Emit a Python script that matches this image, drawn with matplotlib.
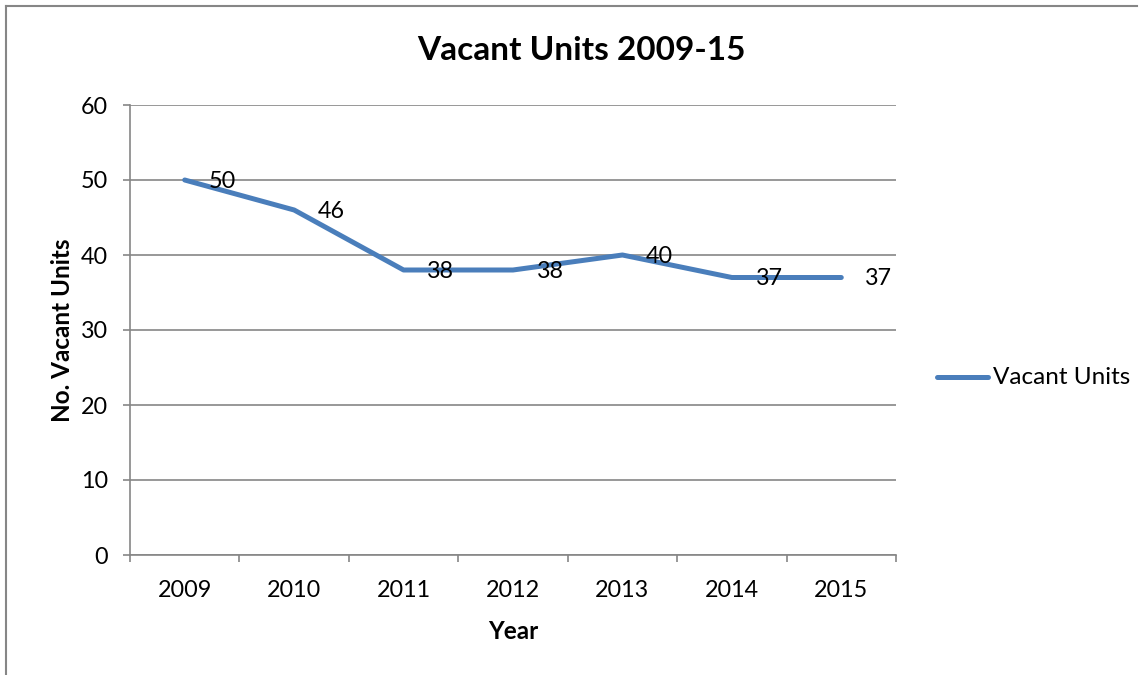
import matplotlib
matplotlib.use("Agg")
import matplotlib.pyplot as plt
from matplotlib.lines import Line2D

plt.rcParams['font.family'] = ['Lato', 'DejaVu Sans']

years = ['2009', '2010', '2011', '2012', '2013', '2014', '2015']
vacant = [50, 46, 38, 38, 40, 37, 37]
series_name = 'Vacant Units'
chart_title = 'Vacant Units 2009-15'

blue = '#4A7EBB'
grey = '#868686'

W, H = 1146, 675
fig = plt.figure(figsize=(W / 100, H / 100), dpi=100)

# plot area in pixels: x 130..896, y 105..555
ax = fig.add_axes([130 / W, (H - 555) / H, 766 / W, 450 / H])

x = list(range(len(years)))
ax.plot(x, vacant, color=blue, lw=3.6, solid_capstyle='round',
        solid_joinstyle='round', label=series_name, zorder=3)

for xi, v in zip(x, vacant):
    ax.annotate(str(v), (xi, v), xytext=(17, -1), textcoords='offset points',
                ha='left', va='center', fontsize=16.8, color='black', zorder=4)

ax.set_xlim(-0.5, len(years) - 0.5)
ax.set_ylim(0, 60)
ax.set_yticks(range(0, 61, 10))
ax.set_xticks(x)
ax.set_xticklabels(years)
ax.set_xticks([i - 0.5 for i in range(len(years) + 1)], minor=True)

ax.yaxis.grid(True, color=grey, lw=1.2)
ax.set_axisbelow(True)
for s in ['top', 'right']:
    ax.spines[s].set_visible(False)
for s in ['left', 'bottom']:
    ax.spines[s].set_color(grey)
    ax.spines[s].set_linewidth(1.2)

ax.tick_params(axis='y', length=5, width=1.2, color=grey, pad=11, labelsize=16.8)
ax.tick_params(axis='x', which='major', length=0, pad=18, labelsize=16.8)
ax.tick_params(axis='x', which='minor', length=5, width=1.2, color=grey)

ax.set_xlabel('Year', fontsize=17.5, fontweight='bold', labelpad=14)
ax.set_ylabel('No. Vacant Units', fontsize=17.5, fontweight='bold', labelpad=5)

fig.text(581 / W, 1 - 50 / H, chart_title, ha='center', va='center',
         fontsize=24, fontweight='bold')

# legend
fig.add_artist(Line2D([937 / W, 988 / W], [1 - 377 / H, 1 - 377 / H],
                      color=blue, lw=3.6, solid_capstyle='round'))
fig.text(993 / W, 1 - 377 / H, series_name, ha='left', va='center', fontsize=17.5)

# chart border (top and left visible)
fig.add_artist(Line2D([6 / W, 1137 / W], [1 - 6 / H, 1 - 6 / H], color=grey, lw=1.5))
fig.add_artist(Line2D([6 / W, 6 / W], [0, 1 - 6 / H], color=grey, lw=1.5))

fig.savefig('out.png', dpi=100)
